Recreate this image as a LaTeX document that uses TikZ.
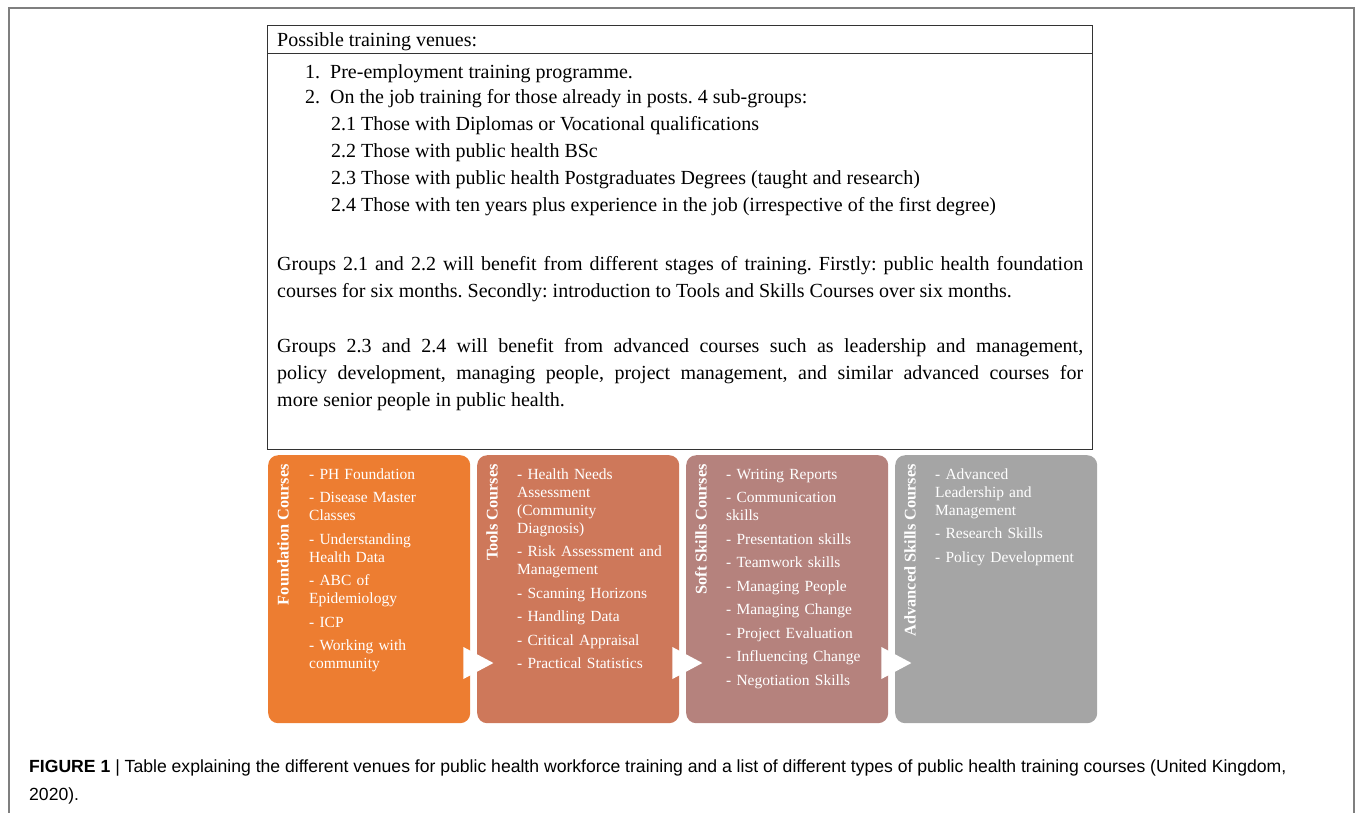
\documentclass[tikz,border=0pt]{standalone}
\usepackage{fontspec}
\setmainfont{Liberation Serif}
\newfontfamily\capfont{Liberation Sans}
\usetikzlibrary{calc}
\frenchspacing
\definecolor{cFound}{HTML}{ED7D31}
\definecolor{cTools}{HTML}{CE785A}
\definecolor{cSoft}{HTML}{B5827D}
\definecolor{cAdv}{HTML}{A5A5A5}
\definecolor{frameGray}{HTML}{7F7F7F}
\definecolor{tabLine}{HTML}{333333}
\begin{document}
\begin{tikzpicture}[x=1pt,y=-1pt,
  tabtext/.style={anchor=base west, inner sep=0pt, font=\fontsize{20}{27}\selectfont},
  tabpar/.style={anchor=base west, inner sep=0pt, text width=806pt, align=justify, font=\fontsize{20}{27}\selectfont},
  course/.style={rounded corners=10pt, minimum width=202pt, minimum height=268pt, inner sep=0pt, anchor=north west},
  ctitle/.style={rotate=90, anchor=east, inner sep=0pt, text=white, font=\fontsize{16.3}{18}\selectfont\bfseries},
  clist/.style={anchor=base west, inner sep=0pt, text=white, align=left, text width=160pt, font=\fontsize{15.5}{18}\selectfont},
  tri/.style={fill=white},
  captext/.style={anchor=base west, inner sep=0pt, font=\capfont\fontsize{17.6}{20}\selectfont}
]
\useasboundingbox (0,0) rectangle (1355,812);
% outer frame
\draw[frameGray, line width=1.5pt] (9,814) -- (9,8) -- (1354,8) -- (1354,814);

% table
\node[draw=tabLine, line width=1.2pt, minimum width=825pt, minimum height=424pt, anchor=north west, inner sep=0pt] (table) at (267,25) {};
\draw[tabLine, line width=1.2pt] ($(table.north west)+(0,28.5)$) coordinate (hl) -- (hl -| table.east);

\node[tabtext] (head) at (277,46) {Possible training venues:};
\node[tabtext] (n1) at (305,78) {1.};
\node[tabtext] (t1) at (330,78) {Pre-employment training programme.};
\node[tabtext] (n2) at (305,103) {2.};
\node[tabtext] (t2) at (330,103) {On the job training for those already in posts. 4 sub-groups:};
\node[tabtext] (s21) at (331,130) {2.1 Those with Diplomas or Vocational qualifications};
\node[tabtext] (s22) at (331,157) {2.2 Those with public health BSc};
\node[tabtext] (s23) at (331,184) {2.3 Those with public health Postgraduates Degrees (taught and research)};
\node[tabtext] (s24) at (331,211) {2.4 Those with ten years plus experience in the job (irrespective of the first degree)};
\node[tabpar] (p1) at (277,270) {Groups 2.1 and 2.2 will benefit from different stages of training. Firstly: public health foundation\linebreak courses for six months. Secondly: introduction to Tools and Skills Courses over six months.};
\node[tabpar] (p2) at (277,352) {Groups 2.3 and 2.4 will benefit from advanced courses such as leadership and management,\linebreak policy development, managing people, project management, and similar advanced courses for\linebreak more senior people in public health.};

% course boxes
\node[course, fill=cFound] (found) at (268,455) {};
\node[course, fill=cTools] (tools) at (477,455) {};
\node[course, fill=cSoft]  (soft)  at (686,455) {};
\node[course, fill=cAdv]   (adv)   at (895,455) {};

\node[ctitle] (foundT) at ($(found.north west)+(15,9)$) {Foundation Courses};
\node[ctitle] (toolsT) at ($(tools.north west)+(15,9)$) {Tools Courses};
\node[ctitle] (softT)  at ($(soft.north west)+(15,9)$)  {Soft Skills Courses};
\node[ctitle] (advT)   at ($(adv.north west)+(15,9)$)   {Advanced Skills Courses};

\node[clist] (foundL) at ($(found.north west)+(41,24)$) {- PH Foundation\\[5.5pt]- Disease Master\\Classes\\[5.5pt]- Understanding\\Health Data\\[5.5pt]- ABC of\\Epidemiology\\[5.5pt]- ICP\\[5.5pt]- Working with\\community};
\node[clist] (toolsL) at ($(tools.north west)+(40,24)$) {- Health Needs\\Assessment\\(Community\\Diagnosis)\\[5.5pt]- Risk Assessment and\\Management\\[5.5pt]- Scanning Horizons\\[5.5pt]- Handling Data\\[5.5pt]- Critical Appraisal\\[5.5pt]- Practical Statistics};
\node[clist] (softL) at ($(soft.north west)+(40,24)$) {- Writing Reports\\[5.5pt]- Communication\\skills\\[5.5pt]- Presentation skills\\[5.5pt]- Teamwork skills\\[5.5pt]- Managing People\\[5.5pt]- Managing Change\\[5.5pt]- Project Evaluation\\[5.5pt]- Influencing Change\\[5.5pt]- Negotiation Skills};
\node[clist] (advL) at ($(adv.north west)+(40,24)$) {- Advanced\\Leadership and\\Management\\[5.5pt]- Research Skills\\[5.5pt]- Policy Development};

% arrow triangles between boxes
\foreach \a in {found,tools,soft}{
  \fill[tri] ($(\a.north east)+(-7,192)$) -- ($(\a.north east)+(23,208)$) -- ($(\a.north east)+(-7,224)$) -- cycle;
}

% caption
\node[captext] (cap1) at (29,772) {\textbf{FIGURE 1} | Table explaining the different venues for public health workforce training and a list of different types of public health training courses (United Kingdom,};
\node[captext] (cap2) at (29,800) {2020).};
\end{tikzpicture}
\end{document}
